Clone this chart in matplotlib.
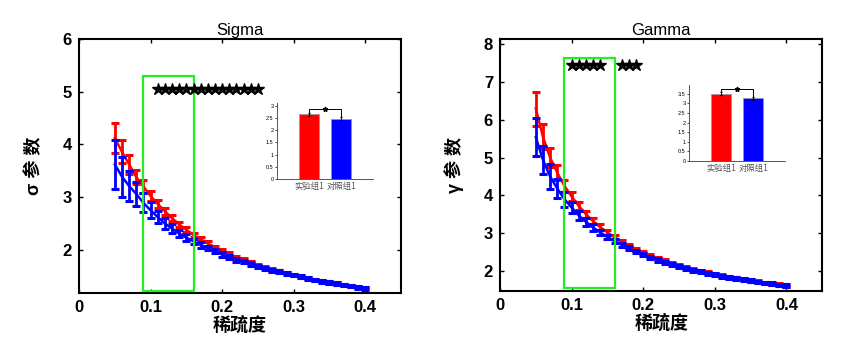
import numpy as np
import matplotlib.pyplot as plt

# 稀疏度
sparsity = [0.05, 0.06, 0.07, 0.08, 0.09, 0.10, 0.11, 0.12, 0.13, 0.14, 0.15, 0.16,
            0.17, 0.18, 0.19, 0.20, 0.21, 0.22, 0.23, 0.24, 0.25, 0.26, 0.27, 0.28,
            0.29, 0.30, 0.31, 0.32, 0.33, 0.34, 0.35, 0.36, 0.37, 0.38, 0.39, 0.40]

# Sigma: 实验组 (red) / 对照组 (blue), mean and error
sigma_exp = [4.12, 3.86, 3.62, 3.38, 3.20, 3.02, 2.87, 2.73, 2.60, 2.48, 2.38, 2.28,
             2.20, 2.12, 2.05, 1.98, 1.92, 1.86, 1.81, 1.76, 1.71, 1.67, 1.63, 1.59,
             1.56, 1.52, 1.49, 1.46, 1.43, 1.41, 1.38, 1.36, 1.33, 1.31, 1.29, 1.27]
sigma_exp_err = [0.28, 0.22, 0.18, 0.14, 0.12, 0.10, 0.08, 0.07, 0.06, 0.05, 0.05, 0.04,
                 0.04, 0.04, 0.03, 0.03, 0.03, 0.03, 0.03, 0.025, 0.025, 0.025, 0.025, 0.02,
                 0.02, 0.02, 0.02, 0.02, 0.02, 0.02, 0.02, 0.02, 0.02, 0.02, 0.02, 0.02]
sigma_ctl = [3.62, 3.39, 3.21, 3.06, 2.89, 2.75, 2.62, 2.50, 2.40, 2.31, 2.23, 2.16,
             2.09, 2.03, 1.97, 1.91, 1.86, 1.81, 1.77, 1.73, 1.69, 1.65, 1.61, 1.58,
             1.55, 1.52, 1.49, 1.46, 1.43, 1.40, 1.38, 1.36, 1.33, 1.31, 1.28, 1.26]
sigma_ctl_err = [0.47, 0.38, 0.29, 0.23, 0.18, 0.15, 0.12, 0.10, 0.08, 0.07, 0.06, 0.05,
                 0.05, 0.04, 0.04, 0.04, 0.035, 0.035, 0.03, 0.03, 0.03, 0.03, 0.03, 0.03,
                 0.025, 0.025, 0.025, 0.025, 0.025, 0.025, 0.025, 0.025, 0.025, 0.025, 0.025, 0.025]

# Gamma
gamma_exp = [6.30, 5.55, 5.00, 4.60, 4.25, 3.97, 3.72, 3.50, 3.32, 3.16, 3.02, 2.89,
             2.78, 2.67, 2.58, 2.49, 2.41, 2.34, 2.27, 2.21, 2.15, 2.10, 2.05, 2.00,
             1.96, 1.92, 1.88, 1.84, 1.81, 1.78, 1.75, 1.72, 1.69, 1.66, 1.64, 1.61]
gamma_exp_err = [0.45, 0.33, 0.25, 0.20, 0.16, 0.13, 0.11, 0.10, 0.08, 0.07, 0.06, 0.05,
                 0.05, 0.05, 0.04, 0.04, 0.04, 0.04, 0.035, 0.035, 0.035, 0.03, 0.03, 0.03,
                 0.03, 0.03, 0.03, 0.03, 0.03, 0.03, 0.03, 0.03, 0.03, 0.03, 0.03, 0.03]
gamma_ctl = [5.54, 4.94, 4.50, 4.18, 3.90, 3.68, 3.47, 3.30, 3.15, 3.02, 2.90, 2.79,
             2.69, 2.60, 2.51, 2.43, 2.36, 2.29, 2.23, 2.17, 2.12, 2.07, 2.02, 1.98,
             1.94, 1.90, 1.86, 1.83, 1.80, 1.77, 1.74, 1.71, 1.68, 1.66, 1.63, 1.61]
gamma_ctl_err = [0.51, 0.37, 0.33, 0.25, 0.20, 0.15, 0.12, 0.10, 0.08, 0.07, 0.06, 0.06,
                 0.05, 0.05, 0.045, 0.045, 0.04, 0.04, 0.04, 0.04, 0.04, 0.035, 0.035, 0.035,
                 0.035, 0.035, 0.035, 0.035, 0.035, 0.035, 0.035, 0.035, 0.035, 0.035, 0.035, 0.035]

# significant sparsity levels
sigma_sig = [0.11, 0.12, 0.13, 0.14, 0.15, 0.16, 0.17, 0.18, 0.19, 0.20,
             0.21, 0.22, 0.23, 0.24, 0.25]
gamma_sig = [0.10, 0.11, 0.12, 0.13, 0.14, 0.17, 0.18, 0.19]

# inset bar charts (averages)
groups = ['实验组1', '对照组1']
sigma_bar = [2.65, 2.45]
sigma_bar_err = [0.06, 0.08]
gamma_bar = [3.50, 3.25]
gamma_bar_err = [0.06, 0.08]

plt.rcParams['font.family'] = ['Liberation Sans', 'Noto Sans CJK SC', 'DejaVu Sans']
cjk = ['Liberation Sans', 'Noto Sans CJK SC', 'DejaVu Sans']

fig = plt.figure(figsize=(8.46, 3.46), dpi=100)


def main_panel(rect, title, ylabel, exp, exp_err, ctl, ctl_err, ylim, yticks,
               sig, sig_y, box_top, box_bottom):
    ax = fig.add_axes(rect)
    ax.errorbar(sparsity, exp, yerr=exp_err, color='#ff0000', lw=1.8,
                elinewidth=2, capsize=3.2, capthick=2.2, zorder=2)
    ax.errorbar(sparsity, ctl, yerr=ctl_err, color='#0000ff', lw=1.8,
                elinewidth=2, capsize=3.2, capthick=2.2, zorder=3)
    # highlighted window
    ax.add_patch(plt.Rectangle((0.09, box_bottom), 0.07, box_top - box_bottom,
                               fill=False, edgecolor='#22ee22', lw=1.6, zorder=4))
    ax.plot(sig, [sig_y] * len(sig), ls='none', marker='*', ms=9,
            color='black', zorder=5)
    ax.set_xlim(0, 0.45)
    ax.set_ylim(*ylim)
    ax.set_xticks([0, 0.1, 0.2, 0.3, 0.4])
    ax.set_xticklabels(['0', '0.1', '0.2', '0.3', '0.4'])
    ax.set_yticks(yticks)
    ax.tick_params(direction='in', length=3, width=1, top=True, right=True,
                   labelsize=12, pad=5)
    for lab in ax.get_xticklabels() + ax.get_yticklabels():
        lab.set_fontweight('bold')
    for s in ax.spines.values():
        s.set_linewidth(1.5)
    ax.set_title(title, fontsize=12, pad=3)
    ax.set_xlabel('稀疏度', family=cjk, fontsize=13, fontweight='bold', labelpad=1)
    ax.set_ylabel(ylabel, family=cjk, fontsize=13, fontweight='bold', labelpad=14)
    return ax


def inset_bars(rect, values, errs, ylim, yticks, bracket_y):
    ax = fig.add_axes(rect)
    ax.bar([1, 2], values, width=0.62, color=['#ff0000', '#0000ff'],
           edgecolor='#999999', lw=0.5)
    ax.errorbar([1, 2], values, yerr=errs, ls='none', color='black',
                elinewidth=0.6, capsize=1)
    ax.plot([1, 1, 2, 2], [values[0] + errs[0], bracket_y, bracket_y,
                           values[1] + errs[1]], color='black', lw=0.7)
    ax.plot([1.5], [bracket_y], ls='none', marker='*', ms=3.5, color='black')
    ax.set_xlim(0, 3)
    ax.set_ylim(*ylim)
    ax.set_yticks(yticks)
    ax.set_yticklabels([f'{t:g}' for t in yticks])
    ax.set_xticks([1, 2])
    ax.set_xticklabels(groups, family=['Noto Sans CJK SC'], fontsize=6,
                       color='#555555')
    ax.tick_params(axis='y', labelsize=4, length=1.5, width=0.5, pad=1)
    ax.tick_params(axis='x', length=0, pad=2)
    ax.spines['top'].set_visible(False)
    ax.spines['right'].set_visible(False)
    for s in ('left', 'bottom'):
        ax.spines[s].set_linewidth(0.7)
        ax.spines[s].set_color('#555555')
    return ax


main_panel([0.0934, 0.1532, 0.3806, 0.7341], 'Sigma', 'σ 参 数',
           sigma_exp, sigma_exp_err, sigma_ctl, sigma_ctl_err,
           (1.18, 6.0), [2, 3, 4, 5, 6], sigma_sig, 5.05, 5.29, 1.22)
main_panel([0.5910, 0.1590, 0.3810, 0.7283], 'Gamma', 'γ 参 数',
           gamma_exp, gamma_exp_err, gamma_ctl, gamma_ctl_err,
           (1.47, 8.14), [2, 3, 4, 5, 6, 7, 8], gamma_sig, 7.46, 7.64, 1.56)

inset_bars([0.3274, 0.4818, 0.1135, 0.2191], sigma_bar, sigma_bar_err,
           (0, 3.09), [0, 0.5, 1, 1.5, 2, 2.5, 3], 2.85)
inset_bars([0.8144, 0.5347, 0.1135, 0.2197], gamma_bar, gamma_bar_err,
           (0, 3.95), [0, 0.5, 1, 1.5, 2, 2.5, 3, 3.5], 3.75)

fig.savefig('out.png', dpi=100)
